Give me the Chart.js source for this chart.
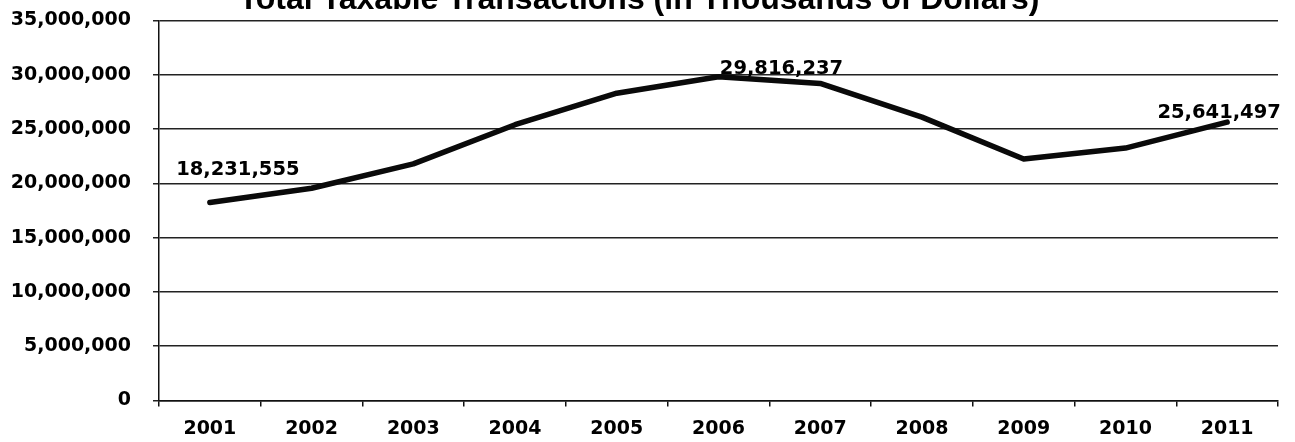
<!DOCTYPE html>
<html>
<head>
<meta charset="utf-8">
<script src="https://cdn.jsdelivr.net/npm/chart.js@4"></script>
<style>
html,body{margin:0;padding:0;background:#fff;}
#wrap{width:1295px;height:442px;position:relative;}
</style>
</head>
<body>
<div id="wrap"><canvas id="c" width="1295" height="442"></canvas></div>
<script>
const titleText = "Total Taxable Transactions (in Thousands of Dollars)";
const years = ["2001","2002","2003","2004","2005","2006","2007","2008","2009","2010","2011"];
const taxable = [18231555, 19550000, 21800000, 25400000, 28300000, 29816237, 29200000, 26100000, 22250000, 23250000, 25641497];
const labelledIdx = [0, 5, 10];
const yMin = 0, yMax = 35000000, yStep = 5000000;

const fmt = v => Math.round(v).toLocaleString('en-US');

const titlePlugin = {
  id: 'cutTitle',
  afterDraw(chart) {
    const ctx = chart.ctx;
    ctx.save();
    ctx.font = 'bold 32px "Liberation Sans", Arial, sans-serif';
    ctx.fillStyle = '#000';
    ctx.textAlign = 'center';
    ctx.textBaseline = 'alphabetic';
    ctx.fillText(titleText, 639, 9);
    ctx.restore();
  }
};

const labelPlugin = {
  id: 'pointLabels',
  afterDatasetsDraw(chart) {
    const ctx = chart.ctx;
    const meta = chart.getDatasetMeta(0);
    ctx.save();
    ctx.font = 'bold 19.5px "DejaVu Sans", Verdana, sans-serif';
    ctx.fillStyle = '#000';
    ctx.textBaseline = 'alphabetic';
    const offs = {0: [28, -28], 5: [63, -3], 10: [-8, -4]};
    labelledIdx.forEach(i => {
      const p = meta.data[i];
      ctx.textAlign = 'center';
      ctx.fillText(fmt(taxable[i]), p.x + offs[i][0], p.y + offs[i][1]);
    });
    ctx.restore();
  }
};

new Chart(document.getElementById('c'), {
  type: 'line',
  data: {
    labels: years,
    datasets: [{
      data: taxable,
      borderColor: '#0a0a0a',
      borderWidth: 5.5,
      pointRadius: 0,
      tension: 0,
      fill: false,
      borderCapStyle: 'round',
      borderJoinStyle: 'round'
    }]
  },
  options: {
    responsive: false,
    animation: false,
    layout: { padding: { top: 20.5, right: 17, left: 0, bottom: 0 } },
    plugins: { legend: { display: false }, tooltip: { enabled: false }, title: { display: false } },
    scales: {
      x: {
        offset: true,
        grid: { offset: true, drawOnChartArea: false, drawTicks: true, tickLength: 6, color: '#111', lineWidth: 1.5 },
        border: { color: '#111', width: 1.5 },
        ticks: { color: '#000', padding: 11, font: { family: '"DejaVu Sans", Verdana, sans-serif', weight: 'bold', size: 19 } },
        afterFit(s) { s.height = 41.5; s.paddingLeft = 0; s.paddingRight = 0; }
      },
      y: {
        min: yMin, max: yMax,
        grid: { color: '#222', lineWidth: 1.5, tickLength: 6 },
        border: { color: '#111', width: 1.5 },
        ticks: { stepSize: yStep, color: '#000', padding: 22, callback: v => fmt(v),
          font: { family: '"DejaVu Sans", Verdana, sans-serif', weight: 'bold', size: 19 } },
        afterFit(s) { s.width = 159; s.paddingTop = 0; s.paddingBottom = 0; }
      }
    }
  },
  plugins: [titlePlugin, labelPlugin]
});
</script>
</body>
</html>
